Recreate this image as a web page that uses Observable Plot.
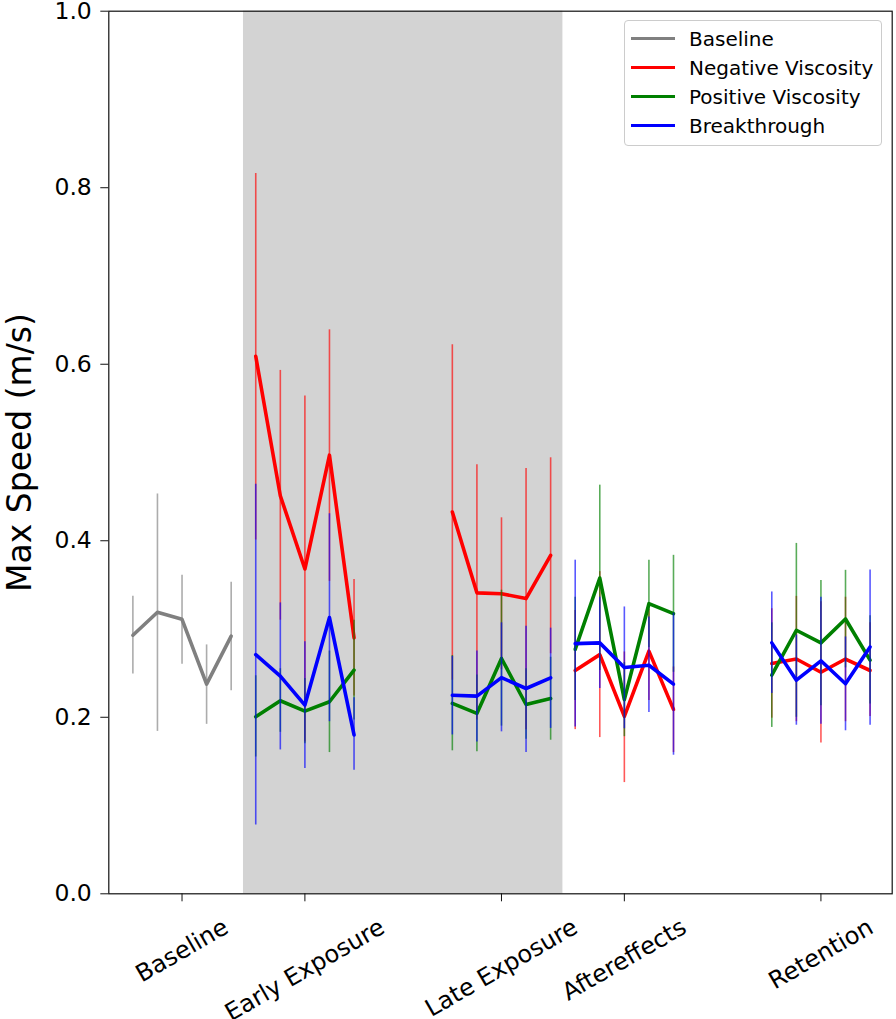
<!DOCTYPE html>
<html>
<head>
<meta charset="utf-8">
<script src="https://cdn.jsdelivr.net/npm/d3@7"></script>
<script src="https://cdn.jsdelivr.net/npm/@observablehq/plot@0.6"></script>
<style>
  body { margin: 0; background: #fff; font-family: "DejaVu Sans", sans-serif; overflow: hidden; }
  #wrap { position: relative; width: 896px; height: 1019px; }
  #wrap svg text { font-family: "DejaVu Sans", sans-serif; }
  .legend { position: absolute; left: 624px; top: 20px; width: 258px; height: 126px;
    border: 1px solid #cccccc; border-radius: 4px; background: rgba(255,255,255,0.85);
    box-sizing: border-box; padding-top: 3px; }
  .row { height: 29px; display: flex; align-items: center; font-size: 20px; color: #000; }
  .sw { width: 44px; height: 3.5px; margin-left: 6px; margin-right: 14px; }
</style>
</head>
<body>
<div id="wrap"></div>
<script>
// ---- Data ----
const phaseLabels = ["Baseline", "Early Exposure", "Late Exposure", "Aftereffects", "Retention"];
const phaseTickTrial = [2, 7, 15, 20, 28];

const baselineTrials = [0, 1, 2, 3, 4];
const earlyTrials = [5, 6, 7, 8, 9];
const lateTrials = [13, 14, 15, 16, 17];
const afterTrials = [18, 19, 20, 21, 22];
const retentionTrials = [26, 27, 28, 29, 30];
const conditionTrials = [...earlyTrials, ...lateTrials, ...afterTrials, ...retentionTrials];

const seriesNames = ["Baseline", "Negative Viscosity", "Positive Viscosity", "Breakthrough"];
const seriesColors = ["gray", "red", "green", "blue"];

const baselineMean = [0.293, 0.319, 0.311, 0.2375, 0.292];
const baselineLow  = [0.249, 0.184, 0.260, 0.192, 0.230];
const baselineHigh = [0.337, 0.453, 0.361, 0.282, 0.353];

const negMean = [0.609, 0.451, 0.368, 0.497, 0.290,  0.4325, 0.341, 0.340, 0.3345, 0.3835,  0.253, 0.271, 0.201, 0.275, 0.209,  0.261, 0.266, 0.251, 0.266, 0.253];
const negLow  = [0.401, 0.310, 0.172, 0.354, 0.224,  0.242, 0.197, 0.254, 0.186, 0.272,  0.186, 0.177, 0.126, 0.219, 0.160,  0.199, 0.195, 0.171, 0.195, 0.201];
const negHigh = [0.816, 0.593, 0.564, 0.639, 0.356,  0.622, 0.486, 0.426, 0.482, 0.494,  0.321, 0.365, 0.274, 0.322, 0.257,  0.323, 0.337, 0.331, 0.336, 0.307];

const posMean = [0.2006, 0.2187, 0.207, 0.2176, 0.2534,  0.2157, 0.2044, 0.2666, 0.2145, 0.2213,  0.277, 0.3578, 0.220, 0.3287, 0.3174,  0.2477, 0.2986, 0.2843, 0.3114, 0.2647];
const posLow  = [0.155, 0.183, 0.170, 0.160, 0.197,  0.162, 0.161, 0.190, 0.175, 0.174,  0.219, 0.253, 0.178, 0.279, 0.251,  0.1885, 0.200, 0.213, 0.256, 0.215];
const posHigh = [0.247, 0.255, 0.244, 0.275, 0.310,  0.270, 0.248, 0.344, 0.255, 0.268,  0.336, 0.463, 0.262, 0.378, 0.3835,  0.307, 0.397, 0.355, 0.3665, 0.315];

const brkMean = [0.271, 0.2466, 0.2138, 0.313, 0.180,  0.225, 0.224, 0.245, 0.2326, 0.2447,  0.2835, 0.2843, 0.2564, 0.259, 0.2375,  0.2843, 0.242, 0.264, 0.238, 0.2797];
const brkLow  = [0.078, 0.163, 0.142, 0.195, 0.140,  0.180, 0.172, 0.1835, 0.160, 0.1874,  0.189, 0.2326, 0.187, 0.2055, 0.157,  0.227, 0.191, 0.192, 0.1847, 0.191];
const brkHigh = [0.464, 0.3296, 0.2855, 0.4306, 0.222,  0.269, 0.275, 0.307, 0.303, 0.301,  0.378, 0.336, 0.325, 0.3137, 0.318,  0.342, 0.293, 0.336, 0.291, 0.367];

// ---- Build tables ----
function build(trials, means, lows, highs, phaseOffset) {
  return trials.map((t, i) => ({ t, phase: phaseOffset + Math.floor(i / 5), mean: means[i], low: lows[i], high: highs[i] }));
}
const series = [
  build(baselineTrials, baselineMean, baselineLow, baselineHigh, 0),
  build(conditionTrials, negMean, negLow, negHigh, 1),
  build(conditionTrials, posMean, posLow, posHigh, 1),
  build(conditionTrials, brkMean, brkLow, brkHigh, 1)
];

const FONT = "DejaVu Sans";
const XTICK_FS = 24;
const YTICK_FS = 23.5;
const ctx = document.createElement("canvas").getContext("2d");
ctx.font = XTICK_FS + "px 'DejaVu Sans'";

const marks = [
  Plot.rect([{ a: earlyTrials[0] - 0.5, b: lateTrials[lateTrials.length - 1] + 0.5 }],
    { x1: "a", x2: "b", y1: 0, y2: 1, fill: "#d3d3d3" })
];
series.forEach((data, k) => {
  marks.push(Plot.ruleX(data, { x: "t", y1: "low", y2: "high", stroke: seriesColors[k], strokeWidth: 1.6, strokeOpacity: 0.65 }));
  marks.push(Plot.line(data, { x: "t", y: "mean", z: "phase", stroke: seriesColors[k], strokeWidth: 3.6 }));
});
marks.push(Plot.frame({ stroke: "#111", strokeWidth: 1.2 }));
marks.push(Plot.axisY({ ticks: [0, 0.2, 0.4, 0.6, 0.8, 1.0], tickFormat: d3.format(".1f"), tickSize: 8, tickPadding: 9, label: null, stroke: "#111", fontSize: YTICK_FS, fontFamily: FONT, fill: "#000" }));
marks.push(Plot.axisX({ ticks: phaseTickTrial, tickFormat: () => "", tickSize: 8, label: null, stroke: "#111" }));
phaseLabels.forEach((lab, i) => {
  const w = ctx.measureText(lab).width;
  marks.push(Plot.text([lab], {
    x: () => phaseTickTrial[i], frameAnchor: "bottom", rotate: -30,
    textAnchor: "middle", lineAnchor: "middle", dy: 21.7 + (w * 0.5 + 19.4) / 2,
    fontSize: XTICK_FS, fontFamily: FONT, fill: "#000"
  }));
});
marks.push(Plot.text(["Max Speed (m/s)"], { frameAnchor: "left", dx: -101, rotate: -90, lineAnchor: "top", textAnchor: "middle", fontSize: 33, fontFamily: FONT, fill: "#000" }));

const chart = Plot.plot({
  width: 896, height: 1019,
  marginLeft: 108.3, marginRight: 4.3, marginTop: 10.7, marginBottom: 125.7,
  x: { domain: [-0.98, 30.9] },
  y: { domain: [0, 1] },
  style: { fontFamily: FONT, fontSize: YTICK_FS + "px", background: "white", color: "#000", display: "block" },
  marks
});
const wrap = document.getElementById("wrap");
wrap.appendChild(chart);

// ---- Legend ----
const legend = document.createElement("div");
legend.className = "legend";
seriesNames.forEach((name, k) => {
  const row = document.createElement("div");
  row.className = "row";
  const sw = document.createElement("span");
  sw.className = "sw";
  sw.style.background = seriesColors[k];
  const tx = document.createElement("span");
  tx.textContent = name;
  row.appendChild(sw); row.appendChild(tx);
  legend.appendChild(row);
});
wrap.appendChild(legend);
</script>
</body>
</html>
